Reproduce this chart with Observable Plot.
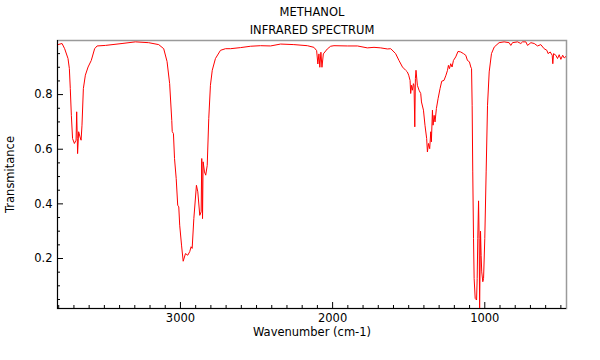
<!DOCTYPE html>
<html>
<head>
<meta charset="utf-8">
<script src="https://cdn.jsdelivr.net/npm/d3@7"></script>
<script src="https://cdn.jsdelivr.net/npm/@observablehq/plot@0.6"></script>
<style>
  html, body { margin: 0; padding: 0; background: #fff; }
  #chart { width: 600px; height: 360px; }
</style>
</head>
<body>
<div id="chart"></div>
<script>
// Wavenumbers (cm-1)
const wavenumber = [
  3805,3778,3761,3739,3730,3724,3717,3709,3697,3686,3682,3678,3676,3669,3660,3653,3647,3638,3625,3607,
  3586,3564,3548,3493,3384,3296,3209,3143,3110,
  3088,3071,3057,3054,3046,3039,3028,3018,3011,3005,2993,2982,2967,2952,2939,2930,2923,2912,2895,2886,
  2873,2864,2860,2855,2851,2842,2834,2824,2814,2803,2791,2770,2737,2704,2671,2605,
  2539,2474,2408,2342,2255,2166,2123,2105,2097,2090,2084,2077,2070,2061,2035,2013,1991,1903,1837,1772,
  1728,1684,
  1640,1618,1586,1564,1541,1520,1509,1500,1491,1487,1482,1476,1469,1465,1460,1456,1452,1443,1432,1421,
  1416,1403,1393,1382,1377,1370,1362,1355,1351,1344,1340,1333,1327,1318,1307,1294,1283,1268,1255,1245,
  1239,1232,1224,1215,1206,1191,1176,1158,1140,1125,1114,1101,1092,1087,
  1083,1079,1074,1070,1063,1054,1050,1046,1041,1037,1034,1030,1028,1024,1020,1013,1008,1000,991,982,
  971,956,938,906,873,840,829,818,785,763,752,730,719,697,675,653,632,610,592,584,
  570,557,553,548,533,522,511,500,488,478,464
];
// Transmittance values
const transmittance = [
  0.983,0.987,0.968,0.932,0.895,0.822,0.724,0.639,0.621,0.633,0.737,0.639,0.584,0.664,0.645,0.633,0.688,0.822,0.871,0.901,
  0.925,0.968,0.978,0.980,0.987,0.993,0.990,0.983,0.968,
  0.921,0.840,0.705,0.665,0.657,0.566,0.493,0.395,0.389,0.322,0.249,0.190,0.218,0.212,0.225,0.243,0.237,0.346,0.468,0.444,
  0.358,0.371,0.566,0.346,0.554,0.517,0.505,0.541,0.712,0.834,0.889,0.932,0.962,0.968,0.968,0.972,
  0.977,0.979,0.978,0.985,0.983,0.979,0.973,0.961,0.912,0.949,0.900,0.955,0.900,0.949,0.967,0.977,0.979,0.978,0.978,0.971,
  0.973,0.971,
  0.967,0.968,0.950,0.925,0.901,0.889,0.883,0.871,0.852,0.804,0.834,0.816,0.840,0.834,0.682,0.859,0.889,0.834,0.816,0.804,
  0.773,0.743,0.688,0.639,0.590,0.621,0.602,0.664,0.627,0.743,0.688,0.724,0.700,0.749,0.785,0.822,0.849,0.852,0.871,0.889,
  0.907,0.895,0.913,0.901,0.925,0.938,0.958,0.956,0.950,0.944,0.925,0.920,0.901,0.895,
  0.761,0.517,0.273,0.127,0.054,0.048,0.127,0.273,0.411,0.273,0.018,0.212,0.300,0.212,0.151,0.115,0.127,0.273,0.517,0.761,
  0.883,0.950,0.974,0.990,0.993,0.990,0.980,0.990,0.993,0.987,0.993,0.993,0.980,0.990,0.987,0.978,0.983,0.968,0.962,0.950,
  0.956,0.944,0.913,0.950,0.944,0.932,0.946,0.929,0.944,0.934,0.941
];

const xDomain = [3808, 463];
const yDomain = [0.017, 0.998];
const xMajorTicks = [3000, 2000, 1000];
const xMinorTicks = [3800,3700,3600,3500,3400,3300,3200,3100,2900,2800,2700,2600,2500,2400,2300,2200,2100,
                     1900,1800,1700,1600,1500,1400,1300,1200,1100,900,800,700,600,500];
const yMajorTicks = [0.2, 0.4, 0.6, 0.8];
const yMinorTicks = [0.05,0.1,0.15,0.25,0.3,0.35,0.45,0.5,0.55,0.65,0.7,0.75,0.85,0.9,0.95];

const titleLines = ["METHANOL", "INFRARED SPECTRUM"];
const xLabel = "Wavenumber (cm-1)";
const yLabel = "Transmitance";

const spectrum = wavenumber.map((w, i) => ({w, t: transmittance[i]}));
const FS = 11.5;

const chart = Plot.plot({
  width: 600,
  height: 360,
  marginLeft: 57,
  marginRight: 34,
  marginTop: 40,
  marginBottom: 52,
  style: {fontFamily: "DejaVu Sans", fontSize: FS + "px", background: "#fff", color: "#000"},
  x: {domain: xDomain},
  y: {domain: yDomain},
  marks: [
    Plot.frame({stroke: "#9a9a9a", strokeWidth: 1.5}),
    Plot.line(spectrum, {x: "w", y: "t", stroke: "#ff0000", strokeWidth: 1, clip: true}),
    Plot.ruleY(yDomain.slice(0, 1), {stroke: "#000"}),
    Plot.ruleX(xDomain.slice(0, 1), {stroke: "#000"}),
    Plot.axisX(xMajorTicks, {anchor: "bottom", tickSize: -6, tickPadding: 11, tickFormat: d => String(d), label: null, fontSize: FS}),
    Plot.axisX(xMinorTicks, {anchor: "bottom", tickSize: -3, tickFormat: () => "", label: null}),
    Plot.axisY(yMajorTicks, {anchor: "left", tickSize: -6, tickPadding: 11, tickFormat: d => String(d), label: null, fontSize: FS}),
    Plot.axisY(yMinorTicks, {anchor: "left", tickSize: -3, tickFormat: () => "", label: null}),
    Plot.text(titleLines.slice(0, 1), {frameAnchor: "top", lineAnchor: "middle", textAnchor: "middle", dy: -28, fontSize: FS}),
    Plot.text(titleLines.slice(1, 2), {frameAnchor: "top", lineAnchor: "middle", textAnchor: "middle", dy: -10, fontSize: FS}),
    Plot.text([xLabel], {frameAnchor: "bottom", lineAnchor: "middle", textAnchor: "middle", dy: 24, fontSize: FS}),
    Plot.text([yLabel], {frameAnchor: "left", lineAnchor: "middle", textAnchor: "middle", dx: -47, rotate: -90, fontSize: FS})
  ]
});
document.getElementById("chart").appendChild(chart);
</script>
</body>
</html>
